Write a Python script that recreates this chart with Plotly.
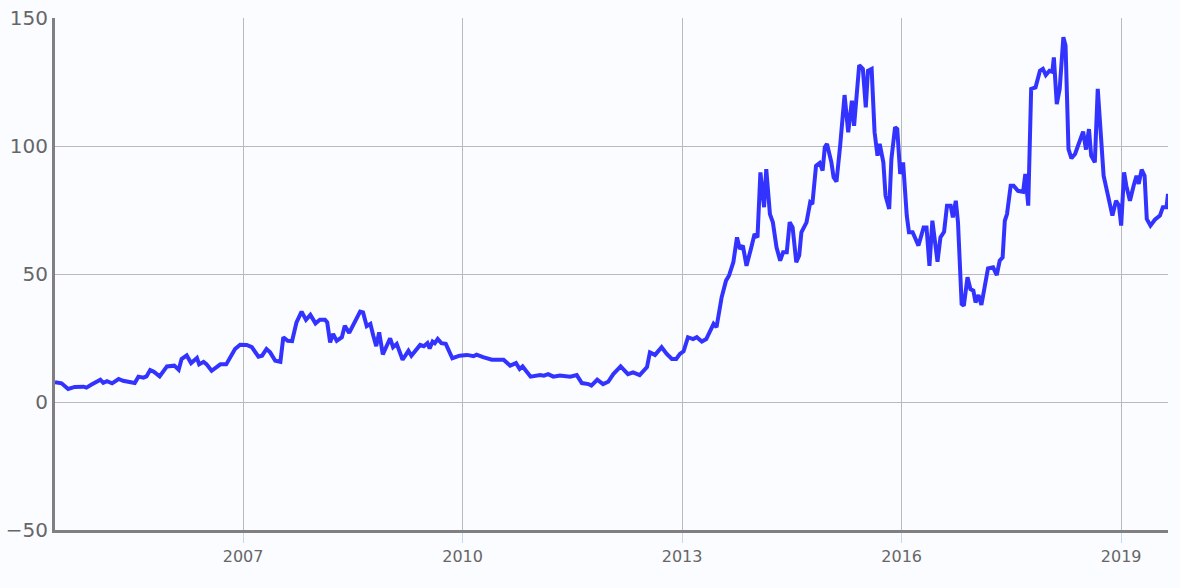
import plotly.graph_objects as go

years = [
    2004.43, 2004.52, 2004.61, 2004.70, 2004.82, 2004.86, 2004.93, 2005.05, 2005.09, 2005.14,
    2005.21, 2005.30, 2005.36, 2005.52, 2005.57, 2005.64, 2005.68, 2005.73, 2005.78, 2005.86,
    2005.96, 2006.03, 2006.06, 2006.12, 2006.16, 2006.23, 2006.29, 2006.37, 2006.40, 2006.46,
    2006.50, 2006.57, 2006.69, 2006.77, 2006.82, 2006.89, 2006.96, 2007.05, 2007.12, 2007.21,
    2007.26, 2007.32, 2007.37, 2007.44, 2007.51, 2007.55, 2007.61, 2007.67, 2007.73, 2007.80,
    2007.86, 2007.92, 2007.99, 2008.05, 2008.12, 2008.15, 2008.19, 2008.23, 2008.28, 2008.35,
    2008.39, 2008.45, 2008.60, 2008.64, 2008.69, 2008.74, 2008.78, 2008.82, 2008.86, 2008.91,
    2009.01, 2009.05, 2009.10, 2009.18, 2009.26, 2009.30, 2009.42, 2009.47, 2009.52, 2009.55,
    2009.59, 2009.62, 2009.66, 2009.71, 2009.77, 2009.86, 2009.96, 2010.06, 2010.15, 2010.19,
    2010.28, 2010.40, 2010.56, 2010.65, 2010.73, 2010.78, 2010.82, 2010.93, 2011.06, 2011.11,
    2011.17, 2011.24, 2011.33, 2011.47, 2011.56, 2011.63, 2011.72, 2011.76, 2011.84, 2011.92,
    2011.99, 2012.06, 2012.16, 2012.26, 2012.33, 2012.42, 2012.52, 2012.56, 2012.63, 2012.72,
    2012.79, 2012.86, 2012.92, 2012.97, 2013.02, 2013.08, 2013.15, 2013.20, 2013.27, 2013.33,
    2013.43, 2013.47, 2013.54, 2013.60, 2013.64, 2013.70, 2013.75, 2013.79, 2013.83, 2013.88,
    2013.94, 2013.99, 2014.03, 2014.07, 2014.12, 2014.15, 2014.20, 2014.24, 2014.29, 2014.34,
    2014.38, 2014.43, 2014.47, 2014.51, 2014.56, 2014.60, 2014.63, 2014.70, 2014.75, 2014.78,
    2014.83, 2014.88, 2014.92, 2014.95, 2014.98, 2015.04, 2015.07, 2015.11, 2015.16, 2015.22,
    2015.27, 2015.32, 2015.35, 2015.42, 2015.47, 2015.51, 2015.54, 2015.59, 2015.63, 2015.67,
    2015.70, 2015.75, 2015.78, 2015.83, 2015.86, 2015.91, 2015.94, 2015.98, 2016.02, 2016.07,
    2016.10, 2016.15, 2016.23, 2016.30, 2016.34, 2016.38, 2016.42, 2016.49, 2016.53, 2016.58,
    2016.62, 2016.67, 2016.70, 2016.74, 2016.77, 2016.82, 2016.85, 2016.90, 2016.94, 2016.98,
    2017.01, 2017.05, 2017.09, 2017.14, 2017.18, 2017.25, 2017.30, 2017.34, 2017.38, 2017.41,
    2017.44, 2017.49, 2017.53, 2017.59, 2017.66, 2017.69, 2017.73, 2017.77, 2017.83, 2017.89,
    2017.93, 2017.97, 2018.02, 2018.06, 2018.08, 2018.12, 2018.16, 2018.21, 2018.24, 2018.28,
    2018.32, 2018.37, 2018.43, 2018.48, 2018.52, 2018.56, 2018.59, 2018.64, 2018.68, 2018.73,
    2018.76, 2018.82, 2018.88, 2018.93, 2018.97, 2019.00, 2019.04, 2019.07, 2019.12, 2019.17,
    2019.21, 2019.24, 2019.28, 2019.32, 2019.35, 2019.40, 2019.46, 2019.53, 2019.57, 2019.62,
    2019.64,
]

values = [
    7.7, 7.3, 5.1, 5.9, 6.0, 5.6, 6.8, 8.7, 7.5, 8.1,
    7.3, 9.0, 8.3, 7.4, 9.9, 9.5, 10.0, 12.5, 11.8, 10.0,
    13.9, 13.9, 14.2, 12.6, 16.8, 18.2, 15.2, 17.2, 14.7, 15.7,
    14.8, 12.2, 14.7, 14.7, 17.1, 20.7, 22.4, 22.3, 21.4, 17.7,
    18.1, 20.7, 19.4, 16.1, 15.7, 25.3, 23.9, 23.8, 31.1, 35.3,
    32.1, 34.0, 30.7, 32.1, 32.1, 31.1, 23.3, 26.6, 23.9, 25.3,
    29.8, 27.0, 35.3, 35.0, 29.6, 30.5, 25.9, 21.8, 27.2, 18.6,
    24.9, 21.4, 22.7, 16.5, 20.0, 18.1, 22.3, 21.8, 23.0, 20.9,
    23.6, 23.0, 24.6, 23.0, 22.7, 17.1, 18.1, 18.4, 17.9, 18.5,
    17.5, 16.5, 16.5, 14.2, 15.2, 12.9, 13.9, 9.9, 10.5, 10.3,
    10.9, 9.9, 10.3, 9.9, 10.5, 7.4, 7.0, 6.4, 8.7, 7.0,
    7.9, 10.9, 13.9, 10.9, 11.6, 10.5, 13.6, 19.4, 18.4, 21.4,
    18.8, 16.8, 16.8, 18.8, 19.8, 25.3, 24.6, 25.3, 23.6, 24.6,
    30.5, 29.2, 40.9, 47.4, 49.3, 54.6, 64.3, 59.8, 61.1, 53.2,
    59.8, 65.6, 64.3, 89.7, 76.1, 91.0, 73.4, 70.2, 60.4, 55.2,
    58.5, 58.5, 70.2, 68.2, 54.6, 57.2, 66.3, 70.2, 78.0, 77.3,
    92.3, 93.4, 90.4, 99.5, 100.8, 93.6, 87.8, 86.1, 100.2, 119.9,
    105.4, 117.7, 107.9, 131.6, 130.1, 115.1, 129.4, 130.1, 105.4, 96.2,
    100.8, 93.6, 80.6, 75.4, 94.9, 107.3, 106.6, 89.1, 93.6, 72.8,
    66.3, 66.3, 61.1, 68.2, 68.2, 53.2, 70.8, 54.8, 64.3, 66.5,
    76.7, 76.7, 72.1, 78.6, 70.2, 38.3, 37.6, 48.7, 44.1, 43.5,
    38.9, 41.8, 37.9, 46.8, 52.2, 52.6, 49.6, 55.2, 56.5, 70.8,
    73.4, 84.5, 84.5, 82.5, 82.1, 89.1, 76.7, 122.3, 122.9, 129.4,
    130.1, 127.7, 129.4, 129.0, 134.6, 116.4, 122.3, 142.5, 139.2, 98.8,
    95.2, 96.9, 101.4, 105.6, 98.6, 106.6, 96.2, 93.6, 122.3, 97.5,
    88.4, 80.6, 72.8, 78.6, 76.7, 68.9, 89.7, 84.5, 78.6, 84.5,
    88.4, 85.2, 90.8, 88.4, 71.5, 68.9, 71.2, 72.8, 76.1, 76.1,
    81.3,
]

x_ticks = [2007, 2010, 2013, 2016, 2019]
y_ticks = [-50, 0, 50, 100, 150]

BG = "#fbfcff"
GRID = "#bababa"
AXIS = "#808080"
TEXT = "#666666"

fig = go.Figure()
fig.add_trace(go.Scatter(
    x=years, y=values, mode="lines",
    line=dict(color="#3333ff", width=4),
    showlegend=False,
))

fig.update_layout(
    width=1180, height=588,
    margin=dict(l=55, r=12, t=18, b=58),
    paper_bgcolor=BG, plot_bgcolor=BG,
    font=dict(family="DejaVu Sans", color=TEXT),
    showlegend=False,
)
fig.update_xaxes(
    range=[years[0], years[-1]],
    tickmode="array", tickvals=x_ticks, ticktext=[str(t) for t in x_ticks],
    showgrid=True, gridcolor=GRID, gridwidth=1,
    zeroline=False, automargin=False,
    showline=True, linecolor=AXIS, linewidth=3,
    ticks="outside", ticklen=10, tickcolor="#c6d8ee", tickwidth=1,
    tickfont=dict(size=16, color=TEXT),
)
fig.update_yaxes(
    range=[-50, 150],
    tickmode="array", tickvals=y_ticks,
    showgrid=True, gridcolor=GRID, gridwidth=1,
    zeroline=False, automargin=False,
    showline=True, linecolor=AXIS, linewidth=3,
    ticks="",
    tickfont=dict(size=20, color=TEXT),
)

fig.write_html(
    "out.html",
    config={"displayModeBar": False},
    post_script="document.body.style.margin='0';document.body.style.background='%s';" % BG,
)
